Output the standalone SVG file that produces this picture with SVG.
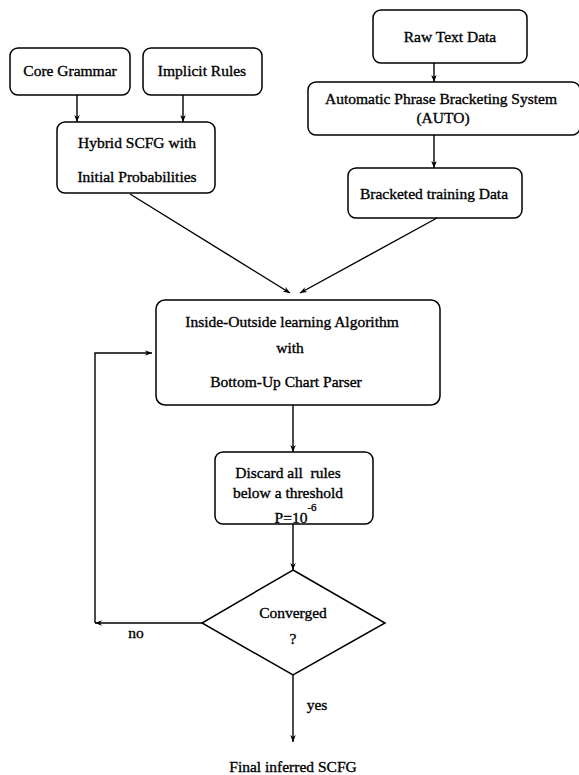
<svg xmlns="http://www.w3.org/2000/svg" width="579" height="775" viewBox="0 0 579 775">
<defs>
<marker id="ah" viewBox="0 0 10 10" refX="10" refY="5" markerWidth="7" markerHeight="7" orient="auto" markerUnits="userSpaceOnUse">
<path d="M0,1 L10,5 L0,9 L3,5 Z" fill="#000"/>
</marker>
<style>
.box{fill:#fff;stroke:#000;stroke-width:1.5}
.t{font-family:"Liberation Serif","Times New Roman",serif;font-size:15.5px;fill:#000;stroke:#000;stroke-width:0.35;text-anchor:middle;white-space:pre}
.c{fill:none;stroke:#000;stroke-width:1.4}
</style>
</defs>
<rect width="579" height="775" fill="#fff"/>
<g id="core-grammar">
<rect class="box" x="10" y="48" width="120" height="47" rx="8"/>
<text class="t" x="70" y="76">Core Grammar</text>
</g>
<g id="implicit-rules">
<rect class="box" x="143" y="48" width="119" height="47" rx="8"/>
<text class="t" x="202" y="76">Implicit Rules</text>
</g>
<g id="hybrid">
<rect class="box" x="57" y="122" width="158" height="71" rx="8"/>
<text class="t" x="137" y="148">Hybrid SCFG with</text>
<text class="t" x="137" y="182">Initial Probabilities</text>
</g>
<g id="raw-text">
<rect class="box" x="373" y="10" width="154" height="53" rx="8"/>
<text class="t" x="450" y="42">Raw Text Data</text>
</g>
<g id="auto">
<rect class="box" x="308" y="82" width="272" height="53" rx="8"/>
<text class="t" x="441" y="104">Automatic Phrase Bracketing System</text>
<text class="t" x="443" y="123">(AUTO)</text>
</g>
<g id="bracketed">
<rect class="box" x="348" y="168" width="174" height="50" rx="8"/>
<text class="t" x="434" y="199">Bracketed training Data</text>
</g>
<g id="inside-outside">
<rect class="box" x="156" y="300" width="284" height="105" rx="9"/>
<text class="t" x="292" y="327">Inside-Outside learning Algorithm</text>
<text class="t" x="290" y="353">with</text>
<text class="t" x="286" y="387">Bottom-Up Chart Parser</text>
</g>
<g id="discard">
<rect class="box" x="215" y="452" width="158" height="72" rx="8"/>
<text class="t" x="288" y="478" xml:space="preserve">Discard all  rules</text>
<text class="t" x="288" y="498">below a threshold</text>
<text class="t" x="291" y="523">P=10</text>
<text class="t" x="312" y="511" style="font-size:11px">-6</text>
</g>
<g id="converged">
<polygon class="box" points="293,570 385,623 293,675 202,623"/>
<text class="t" x="293" y="618">Converged</text>
<text class="t" x="293" y="644">?</text>
</g>
<g id="final">
<text class="t" x="293" y="772">Final inferred SCFG</text>
</g>
<g id="connectors">
<line class="c" x1="77" y1="95" x2="77" y2="122" marker-end="url(#ah)"/>
<line class="c" x1="183" y1="95" x2="183" y2="122" marker-end="url(#ah)"/>
<line class="c" x1="434" y1="63" x2="434" y2="82" marker-end="url(#ah)"/>
<line class="c" x1="434" y1="135" x2="434" y2="168" marker-end="url(#ah)"/>
<line class="c" x1="130" y1="194" x2="290" y2="293" marker-end="url(#ah)"/>
<line class="c" x1="437" y1="218" x2="300" y2="293" marker-end="url(#ah)"/>
<line class="c" x1="293" y1="405" x2="293" y2="452" marker-end="url(#ah)"/>
<line class="c" x1="293" y1="524" x2="293" y2="570" marker-end="url(#ah)"/>
<line class="c" x1="202" y1="623" x2="95" y2="623" marker-end="url(#ah)"/>
<polyline class="c" points="95,623 95,353 152,353" marker-end="url(#ah)"/>
<line class="c" x1="293" y1="675" x2="293" y2="742" marker-end="url(#ah)"/>
<text class="t" x="136" y="638">no</text>
<text class="t" x="317" y="710">yes</text>
</g>
</svg>
